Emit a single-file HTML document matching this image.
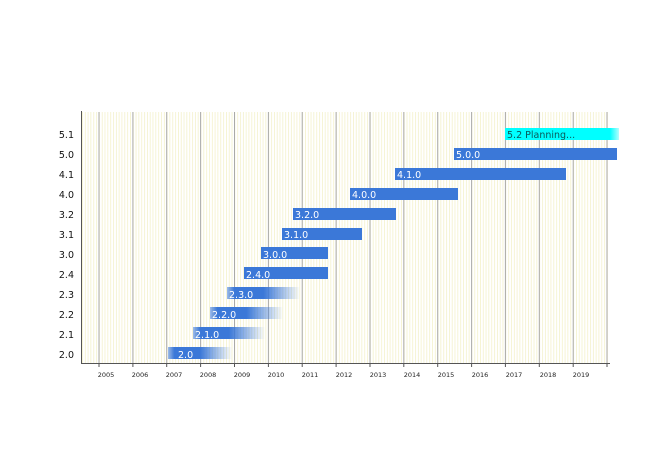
<!DOCTYPE html>
<html><head><meta charset="utf-8"><style>
html,body{margin:0;padding:0;background:#fff;}
svg{display:block;font-family:"DejaVu Sans","Liberation Sans",sans-serif;}
</style></head><body>
<svg width="653" height="462" viewBox="0 0 653 462" xmlns="http://www.w3.org/2000/svg">
<defs>
<pattern id="minor" patternUnits="userSpaceOnUse" x="99" y="0" width="2.8225" height="10">
<rect x="0" y="0" width="0.7" height="10" fill="#f2efc4"/>
</pattern>
<linearGradient id="fade" x1="0" x2="1" y1="0" y2="0">
<stop offset="0" stop-color="#3b78d8" stop-opacity="0.5"/>
<stop offset="0.1" stop-color="#3b78d8"/>
<stop offset="0.5" stop-color="#3b78d8"/>
<stop offset="1" stop-color="#3b78d8" stop-opacity="0"/>
</linearGradient>
<linearGradient id="fadec" x1="0" x2="1" y1="0" y2="0">
<stop offset="0" stop-color="#00ffff"/>
<stop offset="0.92" stop-color="#00ffff"/>
<stop offset="1" stop-color="#00ffff" stop-opacity="0.3"/>
</linearGradient>
</defs>
<rect x="82" y="112" width="526" height="251" fill="url(#minor)"/>
<g stroke="#aaaaaa" stroke-width="1">
<line x1="99" y1="112" x2="99" y2="363"/><line x1="132.9" y1="112" x2="132.9" y2="363"/>
<line x1="166.7" y1="112" x2="166.7" y2="363"/><line x1="200.6" y1="112" x2="200.6" y2="363"/>
<line x1="234.5" y1="112" x2="234.5" y2="363"/><line x1="268.4" y1="112" x2="268.4" y2="363"/>
<line x1="302.2" y1="112" x2="302.2" y2="363"/><line x1="336.1" y1="112" x2="336.1" y2="363"/>
<line x1="370" y1="112" x2="370" y2="363"/><line x1="403.8" y1="112" x2="403.8" y2="363"/>
<line x1="437.7" y1="112" x2="437.7" y2="363"/><line x1="471.6" y1="112" x2="471.6" y2="363"/>
<line x1="505.4" y1="112" x2="505.4" y2="363"/><line x1="539.3" y1="112" x2="539.3" y2="363"/>
<line x1="573.2" y1="112" x2="573.2" y2="363"/><line x1="607" y1="112" x2="607" y2="363"/>
</g>
<g stroke="#555" stroke-width="1">
<line x1="81.5" y1="111" x2="81.5" y2="363.5"/>
<line x1="81" y1="363.5" x2="610" y2="363.5"/>
<line x1="99" y1="363" x2="99" y2="367"/><line x1="132.9" y1="363" x2="132.9" y2="367"/>
<line x1="166.7" y1="363" x2="166.7" y2="367"/><line x1="200.6" y1="363" x2="200.6" y2="367"/>
<line x1="234.5" y1="363" x2="234.5" y2="367"/><line x1="268.4" y1="363" x2="268.4" y2="367"/>
<line x1="302.2" y1="363" x2="302.2" y2="367"/><line x1="336.1" y1="363" x2="336.1" y2="367"/>
<line x1="370" y1="363" x2="370" y2="367"/><line x1="403.8" y1="363" x2="403.8" y2="367"/>
<line x1="437.7" y1="363" x2="437.7" y2="367"/><line x1="471.6" y1="363" x2="471.6" y2="367"/>
<line x1="505.4" y1="363" x2="505.4" y2="367"/><line x1="539.3" y1="363" x2="539.3" y2="367"/>
<line x1="573.2" y1="363" x2="573.2" y2="367"/><line x1="607" y1="363" x2="607" y2="367"/>
</g>
<g font-size="6.5" fill="#222" text-anchor="middle">
<text x="106" y="377">2005</text><text x="140" y="377">2006</text><text x="174" y="377">2007</text>
<text x="208" y="377">2008</text><text x="242" y="377">2009</text><text x="276" y="377">2010</text>
<text x="310" y="377">2011</text><text x="344" y="377">2012</text><text x="378" y="377">2013</text>
<text x="412" y="377">2014</text><text x="446" y="377">2015</text><text x="480" y="377">2016</text>
<text x="514" y="377">2017</text><text x="548" y="377">2018</text><text x="581" y="377">2019</text>
</g>
<g font-size="9.5" fill="#111" text-anchor="end">
<text x="74" y="138">5.1</text><text x="74" y="158">5.0</text><text x="74" y="178">4.1</text>
<text x="74" y="198">4.0</text><text x="74" y="218">3.2</text><text x="74" y="238">3.1</text>
<text x="74" y="258">3.0</text><text x="74" y="278">2.4</text><text x="74" y="298">2.3</text>
<text x="74" y="318">2.2</text><text x="74" y="338">2.1</text><text x="74" y="358">2.0</text>
</g>
<rect x="505" y="128" width="114" height="12" fill="url(#fadec)"/>
<rect x="454" y="148" width="163" height="12" fill="#3b78d8"/>
<rect x="395" y="168" width="171" height="12" fill="#3b78d8"/>
<rect x="350" y="188" width="108" height="12" fill="#3b78d8"/>
<rect x="293" y="208" width="103" height="12" fill="#3b78d8"/>
<rect x="282" y="228" width="80" height="12" fill="#3b78d8"/>
<rect x="261" y="247" width="67" height="12" fill="#3b78d8"/>
<rect x="244" y="267" width="84" height="12" fill="#3b78d8"/>
<rect x="227" y="287" width="73" height="12" fill="url(#fade)"/>
<rect x="210" y="307" width="73" height="12" fill="url(#fade)"/>
<rect x="193" y="327" width="72" height="12" fill="url(#fade)"/>
<rect x="168" y="347" width="64" height="12" fill="url(#fade)"/>
<g font-size="9.5" fill="#fff">
<text x="507" y="138" fill="#0a5a5a">5.2 Planning...</text>
<text x="456" y="158">5.0.0</text><text x="397" y="178">4.1.0</text>
<text x="352" y="198">4.0.0</text><text x="295" y="218">3.2.0</text>
<text x="284" y="238">3.1.0</text><text x="263" y="258">3.0.0</text>
<text x="246" y="278">2.4.0</text><text x="229" y="298">2.3.0</text>
<text x="212" y="318">2.2.0</text><text x="195" y="338">2.1.0</text>
<text x="178" y="358">2.0</text>
</g>
</svg>
</body></html>
